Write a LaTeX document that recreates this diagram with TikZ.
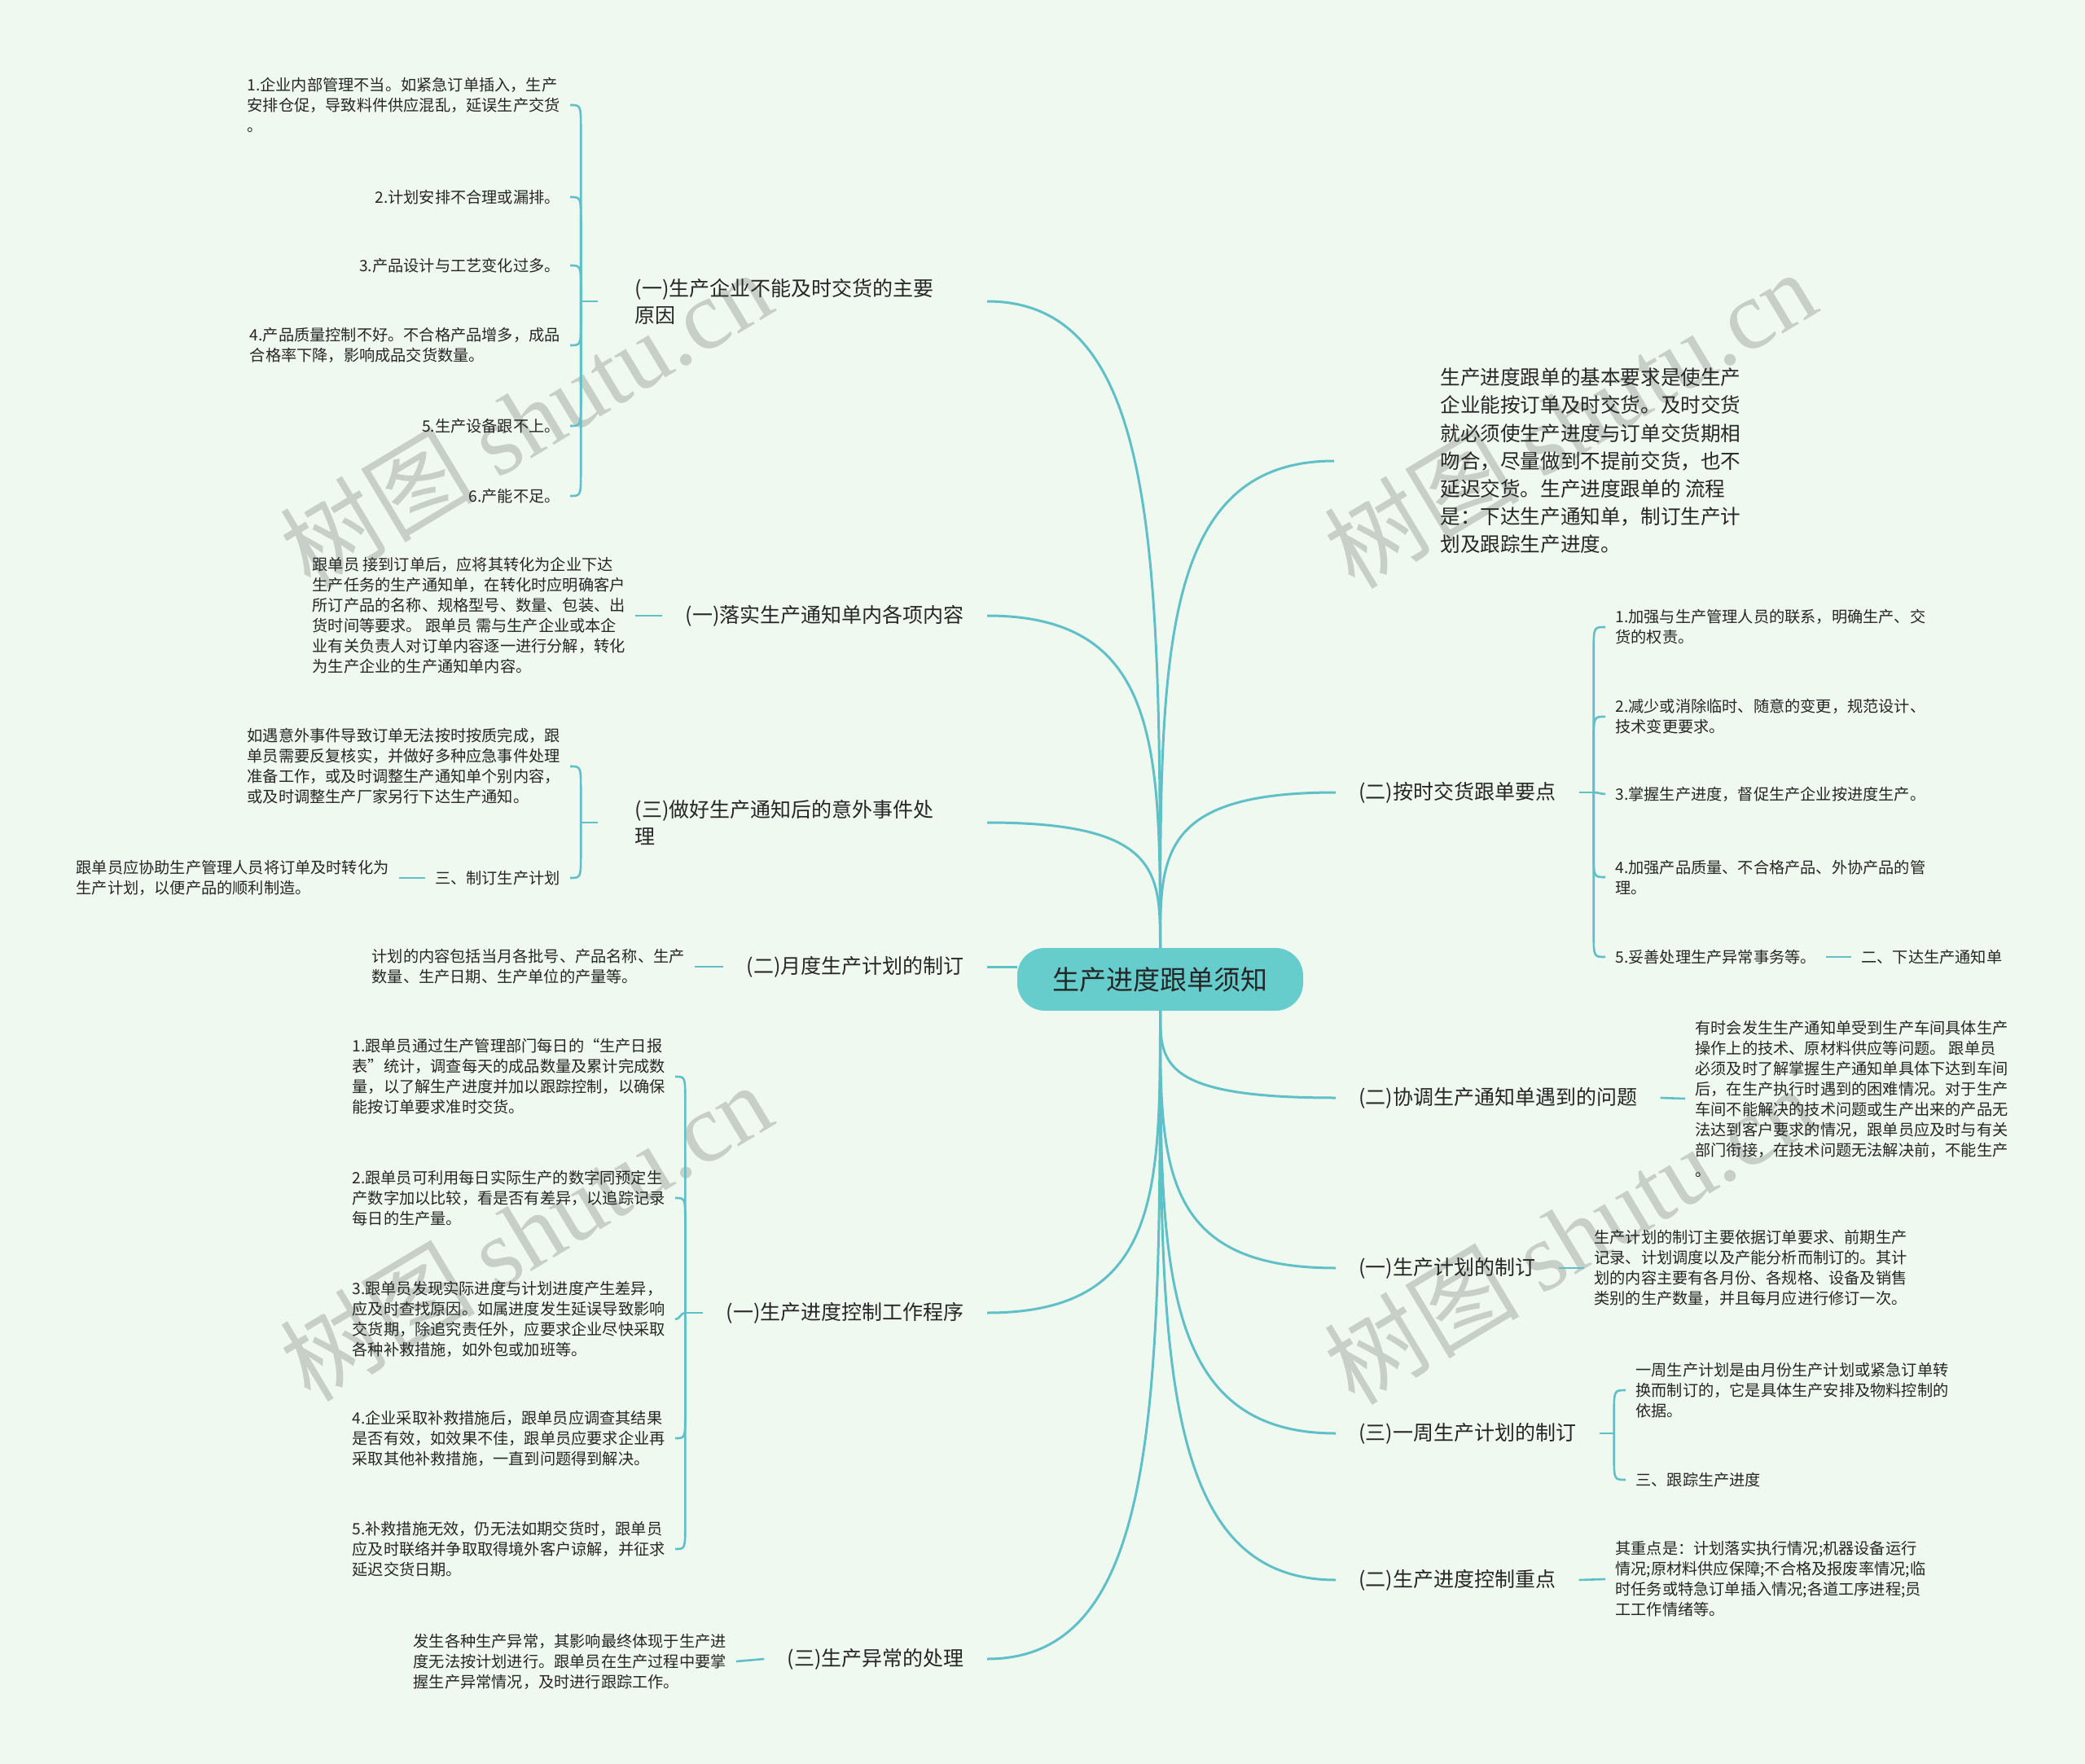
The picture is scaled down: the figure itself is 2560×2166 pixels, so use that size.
\documentclass[tikz,border=0pt]{standalone}
\usepackage{fontspec}
\setmainfont{Noto Sans CJK SC}
\newfontfamily\wmlatin{Liberation Serif}
\newfontfamily\wmcjk{Noto Sans CJK SC}
\usetikzlibrary{calc}
\definecolor{bgc}{RGB}{240,249,239}
\definecolor{lnk}{RGB}{96,192,200}
\definecolor{rootfill}{RGB}{102,204,204}
\definecolor{txt}{RGB}{38,38,38}
\definecolor{wmc}{RGB}{200,206,200}
\tikzset{
  root/.style={fill=rootfill,rounded corners=17pt,minimum width=175.5pt,minimum height=38.5pt,inner sep=0pt,text=txt,font=\fontsize{16.5pt}{20pt}\selectfont},
  title/.style={inner xsep=14pt,inner ysep=2pt,text=txt,align=left,font=\fontsize{12.5pt}{16.5pt}\selectfont},
  para/.style={inner xsep=65pt,inner ysep=2pt,text=txt,align=left,font=\fontsize{12.3pt}{17.1pt}\selectfont},
  leaf/.style={inner xsep=6pt,inner ysep=2pt,text=txt,align=left,font=\fontsize{9.6pt}{12.5pt}\selectfont},
  wm/.style={text=wmc,font=\fontsize{60pt}{60pt}\selectfont,rotate=31,inner sep=0pt},
  main/.style={draw=lnk,line width=1.5pt},
  sub/.style={draw=lnk,line width=1.3pt},
  mm/.style={to path={.. controls ($(\tikztostart)!0.6!(\tikztostart |- \tikztotarget)$) and (\tikztostart |- \tikztotarget) .. (\tikztotarget)}},
  brk/.style={to path={-- ([yshift=#1]\tikztostart |- \tikztotarget) .. controls (\tikztostart |- \tikztotarget) .. (\tikztotarget)}},
}
\begin{document}
\begin{tikzpicture}[x=0.5pt,y=-0.5pt]
\useasboundingbox (0,0) rectangle (2560,2166);
\fill[bgc] (0,0) rectangle (2560,2166);

% watermarks
\node[wm] (w1) at (645,514) {\wmcjk 树图 \wmlatin shutu.cn};
\node[wm] (w2) at (1927,514) {\wmcjk 树图 \wmlatin shutu.cn};
\node[wm] (w3) at (645,1512) {\wmcjk 树图 \wmlatin shutu.cn};
\node[wm] (w4) at (1927,1516) {\wmcjk 树图 \wmlatin shutu.cn};

% root
\node[root] (root) at (1424.5,1202.5) {生产进度跟单须知};

% level 1 left
\node[title,anchor=east,text width=202pt] (L1) at (1212,370) {(一)生产企业不能及时交货的主要\\原因};
\node[title,anchor=east] (L2) at (1212,756) {(一)落实生产通知单内各项内容};
\node[title,anchor=east,text width=202pt] (L3) at (1212,1010) {(三)做好生产通知后的意外事件处\\理};
\node[title,anchor=east] (L4) at (1212,1187) {(二)月度生产计划的制订};
\node[title,anchor=east] (L5) at (1212,1612) {(一)生产进度控制工作程序};
\node[title,anchor=east] (L6) at (1212,2037) {(三)生产异常的处理};

% level 1 right
\node[para,anchor=west] (R1) at (1638,566) {生产进度跟单的基本要求是使生产\\企业能按订单及时交货。及时交货\\就必须使生产进度与订单交货期相\\吻合，尽量做到不提前交货，也不\\延迟交货。生产进度跟单的 流程\\是：下达生产通知单，制订生产计\\划及跟踪生产进度。};
\node[title,anchor=west] (R2) at (1640,973) {(二)按时交货跟单要点};
\node[title,anchor=west] (R3) at (1640,1348) {(二)协调生产通知单遇到的问题};
\node[title,anchor=west] (R4) at (1640,1557) {(一)生产计划的制订};
\node[title,anchor=west] (R5) at (1640,1760) {(三)一周生产计划的制订};
\node[title,anchor=west] (R6) at (1640,1940) {(二)生产进度控制重点};

% leaves left
\node[leaf,anchor=east] (a1) at (700,129) {1.企业内部管理不当。如紧急订单插入，生产\\安排仓促，导致料件供应混乱，延误生产交货\\。};
\node[leaf,anchor=east] (a2) at (700,242) {2.计划安排不合理或漏排。};
\node[leaf,anchor=east] (a3) at (700,326) {3.产品设计与工艺变化过多。};
\node[leaf,anchor=east] (a4) at (700,424) {4.产品质量控制不好。不合格产品增多，成品\\合格率下降，影响成品交货数量。};
\node[leaf,anchor=east] (a5) at (700,523) {5.生产设备跟不上。};
\node[leaf,anchor=east] (a6) at (700,609) {6.产能不足。};

\node[leaf,anchor=east] (L2c) at (780,756) {跟单员 接到订单后，应将其转化为企业下达\\生产任务的生产通知单，在转化时应明确客户\\所订产品的名称、规格型号、数量、包装、出\\货时间等要求。 跟单员 需与生产企业或本企\\业有关负责人对订单内容逐一进行分解，转化\\为生产企业的生产通知单内容。};

\node[leaf,anchor=east] (d1) at (700,941) {如遇意外事件导致订单无法按时按质完成，跟\\单员需要反复核实，并做好多种应急事件处理\\准备工作，或及时调整生产通知单个别内容，\\或及时调整生产厂家另行下达生产通知。};
\node[leaf,anchor=east] (d2) at (700,1078) {三、制订生产计划};
\node[leaf,anchor=east] (d3) at (490,1078) {跟单员应协助生产管理人员将订单及时转化为\\生产计划，以便产品的顺利制造。};

\node[leaf,anchor=east] (L4c) at (853,1187) {计划的内容包括当月各批号、产品名称、生产\\数量、生产日期、生产单位的产量等。};

\node[leaf,anchor=east] (f1) at (829,1322) {1.跟单员通过生产管理部门每日的“生产日报\\表”统计，调查每天的成品数量及累计完成数\\量，以了解生产进度并加以跟踪控制，以确保\\能按订单要求准时交货。};
\node[leaf,anchor=east] (f2) at (829,1471) {2.跟单员可利用每日实际生产的数字同预定生\\产数字加以比较，看是否有差异，以追踪记录\\每日的生产量。};
\node[leaf,anchor=east] (f3) at (829,1620) {3.跟单员发现实际进度与计划进度产生差异，\\应及时查找原因。如属进度发生延误导致影响\\交货期，除追究责任外，应要求企业尽快采取\\各种补救措施，如外包或加班等。};
\node[leaf,anchor=east] (f4) at (829,1766) {4.企业采取补救措施后，跟单员应调查其结果\\是否有效，如效果不佳，跟单员应要求企业再\\采取其他补救措施，一直到问题得到解决。};
\node[leaf,anchor=east] (f5) at (829,1902) {5.补救措施无效，仍无法如期交货时，跟单员\\应及时联络并争取取得境外客户谅解，并征求\\延迟交货日期。};

\node[leaf,anchor=east] (L6c) at (904,2040) {发生各种生产异常，其影响最终体现于生产进\\度无法按计划进行。跟单员在生产过程中要掌\\握生产异常情况，及时进行跟踪工作。};

% leaves right
\node[leaf,anchor=west] (g1) at (1971,770) {1.加强与生产管理人员的联系，明确生产、交\\货的权责。};
\node[leaf,anchor=west] (g2) at (1971,880) {2.减少或消除临时、随意的变更，规范设计、\\技术变更要求。};
\node[leaf,anchor=west] (g3) at (1971,975) {3.掌握生产进度，督促生产企业按进度生产。};
\node[leaf,anchor=west] (g4) at (1971,1077) {4.加强产品质量、不合格产品、外协产品的管\\理。};
\node[leaf,anchor=west] (g5) at (1971,1175) {5.妥善处理生产异常事务等。};
\node[leaf,anchor=west] (g6) at (2273,1175) {二、下达生产通知单};

\node[leaf,anchor=west] (R3c) at (2069,1349) {有时会发生生产通知单受到生产车间具体生产\\操作上的技术、原材料供应等问题。 跟单员\\必须及时了解掌握生产通知单具体下达到车间\\后，在生产执行时遇到的困难情况。对于生产\\车间不能解决的技术问题或生产出来的产品无\\法达到客户要求的情况，跟单员应及时与有关\\部门衔接，在技术问题无法解决前，不能生产\\。};

\node[leaf,anchor=west] (R4c) at (1945,1557) {生产计划的制订主要依据订单要求、前期生产\\记录、计划调度以及产能分析而制订的。其计\\划的内容主要有各月份、各规格、设备及销售\\类别的生产数量，并且每月应进行修订一次。};

\node[leaf,anchor=west] (k1) at (1996,1707) {一周生产计划是由月份生产计划或紧急订单转\\换而制订的，它是具体生产安排及物料控制的\\依据。};
\node[leaf,anchor=west] (k2) at (1996,1817) {三、跟踪生产进度};

\node[leaf,anchor=west] (R6c) at (1971,1939) {其重点是：计划落实执行情况;机器设备运行\\情况;原材料供应保障;不合格及报废率情况;临\\时任务或特急订单插入情况;各道工序进程;员\\工工作情绪等。};

% main connectors
\draw[main] (root.north) to[mm] (L1.east);
\draw[main] (root.north) to[mm] (L2.east);
\draw[main] (root.north) to[mm] (L3.east);
\draw[main] (root.north) to[mm] (R1.west);
\draw[main] (root.north) to[mm] (R2.west);
\draw[main] (L4.east) -- (L4.east -| root.west);
\draw[main] (root.south) to[mm] (L5.east);
\draw[main] (root.south) to[mm] (L6.east);
\draw[main] (root.south) to[mm] (R3.west);
\draw[main] (root.south) to[mm] (R4.west);
\draw[main] (root.south) to[mm] (R5.west);
\draw[main] (root.south) to[mm] (R6.west);

% L1 bracket
\coordinate (b1) at ([xshift=-19pt]L1.west);
\draw[sub] ([xshift=-8.5pt]L1.west) -- (b1);
\draw[sub] (b1) to[brk=-15pt] (a1.east);
\draw[sub] (b1) to[brk=-15pt] (a2.east);
\draw[sub] (b1) to[brk=-15pt] (a3.east);
\draw[sub] (b1) to[brk=15pt] (a4.east);
\draw[sub] (b1) to[brk=15pt] (a5.east);
\draw[sub] (b1) to[brk=15pt] (a6.east);

% L2
\draw[sub] (L2.west) -- (L2c.east);

% L3 bracket
\coordinate (b3) at ([xshift=-19pt]L3.west);
\draw[sub] ([xshift=-8.5pt]L3.west) -- (b3);
\draw[sub] (b3) to[brk=-15pt] (d1.east);
\draw[sub] (b3) to[brk=15pt] (d2.east);
\draw[sub] (d2.west) -- (d3.east);

% L4
\draw[sub] (L4.west) -- (L4c.east);

% L5 bracket
\coordinate (b5) at ([xshift=-11pt]L5.west);
\draw[sub] (L5.west) -- (b5);
\draw[sub] (b5) to[brk=-15pt] (f1.east);
\draw[sub] (b5) to[brk=-15pt] (f2.east);
\draw[sub] (b5) to[out=180,in=0] (f3.east);
\draw[sub] (b5) to[brk=15pt] (f4.east);
\draw[sub] (b5) to[brk=15pt] (f5.east);

% L6
\draw[sub] (L6.west) -- (L6c.east);

% R2 bracket
\coordinate (b2) at ([xshift=9pt]R2.east);
\draw[sub] (R2.east) -- (b2);
\draw[sub] (b2) to[brk=-15pt] (g1.west);
\draw[sub] (b2) to[brk=-15pt] (g2.west);
\draw[sub] (b2) to[out=0,in=180] (g3.west);
\draw[sub] (b2) to[brk=15pt] (g4.west);
\draw[sub] (b2) to[brk=15pt] (g5.west);
\draw[sub] (g5.east) -- (g6.west);

% R3, R4, R6
\draw[sub] (R3.east) -- (R3c.west);
\draw[sub] (R4.east) -- (R4c.west);
\draw[sub] (R6.east) -- (R6c.west);

% R5 bracket
\coordinate (b6) at ([xshift=9pt]R5.east);
\draw[sub] (R5.east) -- (b6);
\draw[sub] (b6) to[brk=-15pt] (k1.west);
\draw[sub] (b6) to[brk=15pt] (k2.west);
\end{tikzpicture}
\end{document}
